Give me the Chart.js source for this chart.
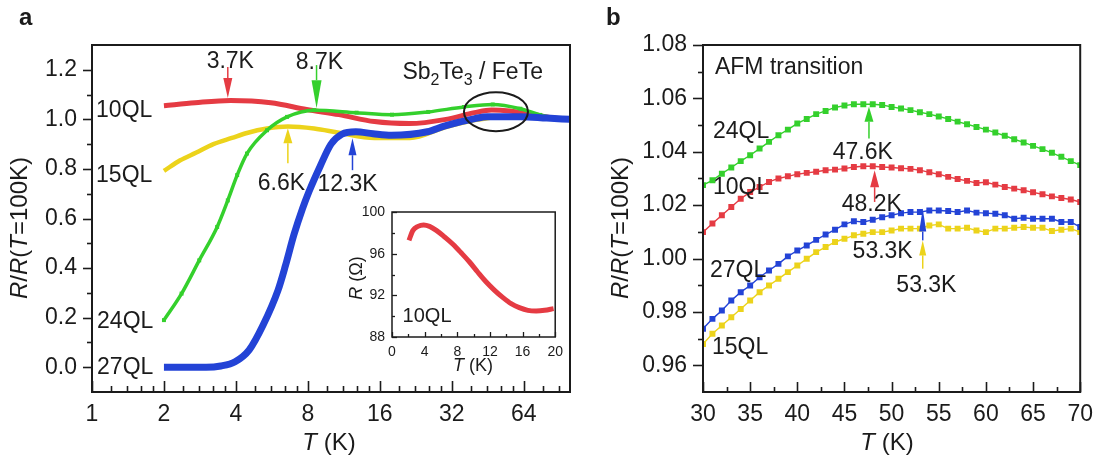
<!DOCTYPE html>
<html>
<head>
<meta charset="utf-8">
<script src="https://cdn.jsdelivr.net/npm/chart.js@4.4.1/dist/chart.umd.min.js"></script>
<style>
  body { margin: 0; background: #fff; }
  #wrap { position: relative; width: 1102px; height: 460px; overflow: hidden; font-family: "Liberation Sans", Arial, sans-serif; color: #1b1b1b; }
  .panel { position: absolute; }
  .tag { position: absolute; font-weight: bold; font-size: 24px; line-height: 1; }
</style>
</head>
<body>
<div id="wrap">
  <div class="panel" style="left:0;top:0;width:590px;height:460px"><canvas id="chartA"></canvas></div>
  <div class="panel" style="left:340px;top:190px;width:230px;height:200px"><canvas id="chartInset"></canvas></div>
  <div class="panel" style="left:590px;top:0;width:512px;height:460px"><canvas id="chartB"></canvas></div>
  <div class="tag" style="left:19px;top:5px">a</div>
  <div class="tag" style="left:606px;top:5px">b</div>
</div>
<script>
// ---- panel a : R/R(T=100K) against T (log2 axis) ----
var tRed10 = [2, 2.7, 3.8, 5.6, 7.9, 10.8, 15.2, 21.3, 30.3, 39.8, 47, 56, 70, 85, 100];
var rRed10 = [1.055, 1.067, 1.076, 1.067, 1.040, 1.019, 0.991, 0.983, 1.000, 1.027, 1.038, 1.034, 1.020, 1.006, 1.0];

var tYel15 = [2, 2.34, 2.72, 3.22, 3.85, 4.45, 5.4, 6.6, 8.5, 10.8, 15.2, 21.4, 30, 40, 53, 70, 85, 100];
var rYel15 = [0.792, 0.835, 0.865, 0.900, 0.925, 0.945, 0.963, 0.971, 0.963, 0.946, 0.925, 0.925, 0.968, 0.997, 1.011, 1.008, 1.004, 1.0];

var tGrn24 = [2, 2.37, 2.81, 3.34, 3.7, 4.05, 4.45, 5.4, 6.55, 8.5, 12.8, 18, 25.5, 36, 47.5, 62, 75, 88, 100];
var rGrn24 = [0.19, 0.297, 0.431, 0.566, 0.673, 0.775, 0.862, 0.956, 1.010, 1.037, 1.027, 1.019, 1.030, 1.050, 1.060, 1.043, 1.018, 1.004, 1.0];

var tBlu27 = [2, 2.5, 3, 3.46, 3.97, 4.55, 5.2, 6.0, 6.45, 7.0, 7.6, 8.1, 9.0, 10.0, 11.1, 12.7, 15, 17.9, 25.3, 30, 40, 45, 62, 80, 100];
var rBlu27 = [0.0, 0.0, 0.0, 0.005, 0.022, 0.07, 0.17, 0.31, 0.41, 0.535, 0.64, 0.71, 0.81, 0.90, 0.94, 0.95, 0.942, 0.936, 0.95, 0.974, 1.003, 1.011, 1.011, 1.005, 1.0];

var xTicksA = [1, 2, 4, 8, 16, 32, 64];
var yTicksA = [0, 0.2, 0.4, 0.6, 0.8, 1.0, 1.2];

// ---- inset : R (ohm) of 10QL ----
var tInset = [2.08, 2.57, 3.18, 3.88, 4.6, 5.43, 6.45, 7.47, 8.5, 9.5, 10.5, 11.55, 12.57, 13.6, 14.6, 15.6, 16.65, 17.67, 18.7, 19.8];
var rInset = [97.28, 98.24, 98.62, 98.75, 98.62, 98.24, 97.6, 96.9, 96.06, 95.2, 94.24, 93.28, 92.48, 91.78, 91.2, 90.82, 90.56, 90.5, 90.56, 90.72];
var xTicksIn = [0, 4, 8, 12, 16, 20];
var yTicksIn = [88, 92, 96, 100];

// ---- panel b : AFM transition, 1 K steps ----
var tempB = [30, 31, 32, 33, 34, 35, 36, 37, 38, 39, 40, 41, 42, 43, 44, 45, 46, 47, 48, 49, 50,
             51, 52, 53, 54, 55, 56, 57, 58, 59, 60, 61, 62, 63, 64, 65, 66, 67, 68, 69, 70];
var bGreen24 = [1.0275, 1.0293, 1.0318, 1.0341, 1.0365, 1.0387, 1.0412, 1.0437, 1.0462, 1.0483, 1.0506,
                1.0523, 1.0541, 1.0553, 1.0566, 1.0573, 1.0578, 1.0578, 1.0578, 1.0575, 1.0568,
                1.0562, 1.0556, 1.0548, 1.0541, 1.0532, 1.0523, 1.0513, 1.0503, 1.0493, 1.0483,
                1.0472, 1.0460, 1.0447, 1.0435, 1.0422, 1.0410, 1.0396, 1.0381, 1.0365, 1.0350];
var bRed10 = [1.0099, 1.0131, 1.0162, 1.0193, 1.0224, 1.0249, 1.0268, 1.0287, 1.0300, 1.0308, 1.0316,
              1.0321, 1.0325, 1.0331, 1.0333, 1.0337, 1.0343, 1.0346, 1.0346, 1.0343, 1.0341,
              1.0338, 1.0336, 1.0331, 1.0323, 1.0316, 1.0306, 1.0298, 1.0291, 1.0283, 1.0286,
              1.0277, 1.0268, 1.0262, 1.0256, 1.0248, 1.0241, 1.0233, 1.0227, 1.0221, 1.0212];
var bBlue27 = [0.9737, 0.9774, 0.9805, 0.9843, 0.9874, 0.9899, 0.9930, 0.9955, 0.9980, 1.0008, 1.0030,
               1.0049, 1.0070, 1.0090, 1.0108, 1.0128, 1.0140, 1.0137, 1.0145, 1.0155, 1.0162,
               1.0170, 1.0174, 1.0174, 1.0180, 1.0180, 1.0178, 1.0174, 1.0180, 1.0172, 1.0170,
               1.0168, 1.0162, 1.0149, 1.0153, 1.0149, 1.0149, 1.0149, 1.0137, 1.0137, 1.0118];
var bYellow15 = [0.9680, 0.9718, 0.9749, 0.9780, 0.9811, 0.9843, 0.9874, 0.9899, 0.9924, 0.9949, 0.9974,
                 0.9999, 1.0024, 1.0043, 1.0062, 1.0074, 1.0087, 1.0093, 1.0099, 1.0099, 1.0105,
                 1.0112, 1.0112, 1.0112, 1.0124, 1.0128, 1.0112, 1.0112, 1.0115, 1.0105, 1.0099,
                 1.0112, 1.0112, 1.0115, 1.0118, 1.0115, 1.0115, 1.0103, 1.0108, 1.0112, 1.0099];
var xTicksB = [30, 35, 40, 45, 50, 55, 60, 65, 70];
var yTicksB = [0.96, 0.98, 1.00, 1.02, 1.04, 1.06, 1.08];

var RED = '#e53b43', GREEN = '#34d02c', YELLOW = '#ecd31b', BLUE = '#2343d6', INK = '#1b1b1b';
var FONT = '"Liberation Sans", Arial, sans-serif';

function pts(xs, ys) {
  return xs.map(function (x, i) { return { x: x, y: ys[i] }; });
}

// draws a row of text pieces (italic / subscript) centred or left aligned
function drawRich(ctx, segs, x, y, size, rot, align) {
  ctx.save();
  ctx.translate(x, y);
  ctx.rotate(rot || 0);
  var font = function (s) {
    return (s.i ? 'italic ' : '') + Math.round(s.sub ? size * 0.68 : size) + 'px ' + FONT;
  };
  var w = segs.map(function (s) { ctx.font = font(s); return ctx.measureText(s.t).width; });
  var total = w.reduce(function (a, b) { return a + b; }, 0);
  var cx = align === 'left' ? 0 : -total / 2;
  ctx.textAlign = 'left';
  ctx.textBaseline = 'middle';
  ctx.fillStyle = INK;
  segs.forEach(function (s, i) {
    ctx.font = font(s);
    ctx.fillText(s.t, cx, s.sub ? size * 0.38 : 0);
    cx += w[i];
  });
  ctx.restore();
}

function txt(s) { return [{ t: s }]; }

// frame, tick marks (x inwards, y inwards or outwards) and axis titles
var framePlugin = {
  id: 'frame',
  afterDraw: function (chart, args, o) {
    var ctx = chart.ctx, a = chart.chartArea, xs = chart.scales.x, ys = chart.scales.y;
    ctx.save();
    ctx.strokeStyle = INK;
    ctx.lineWidth = o.tickWidth;
    function xt(v, len) {
      var p = Math.round(xs.getPixelForValue(v)) + 0.5;
      ctx.beginPath(); ctx.moveTo(p, a.bottom); ctx.lineTo(p, a.bottom - len); ctx.stroke();
    }
    function yt(v, len) {
      var p = Math.round(ys.getPixelForValue(v)) + 0.5;
      ctx.beginPath(); ctx.moveTo(a.left, p); ctx.lineTo(a.left + o.yDir * len, p); ctx.stroke();
    }
    o.xMajor.forEach(function (v) { xt(v, o.xLen); });
    o.xMinor.forEach(function (v) { xt(v, o.xMinLen); });
    o.yMajor.forEach(function (v) { yt(v, o.yLen); });
    o.yMinor.forEach(function (v) { yt(v, o.yMinLen); });
    ctx.lineWidth = o.width;
    ctx.strokeRect(a.left, a.top, a.right - a.left, a.bottom - a.top);
    (o.titles || []).forEach(function (t) {
      drawRich(ctx, t.segs, t.x, t.y, t.size, t.rot, 'center');
    });
    ctx.restore();
  }
};

// labels, arrows and ellipse placed in data coordinates
var notesPlugin = {
  id: 'notes',
  afterDatasetsDraw: function (chart, args, o) {
    var ctx = chart.ctx, xs = chart.scales.x, ys = chart.scales.y;
    ctx.save();
    (o.ellipses || []).forEach(function (e) {
      ctx.beginPath();
      ctx.ellipse(xs.getPixelForValue(e.x), ys.getPixelForValue(e.y), e.rx, e.ry, 0, 0, Math.PI * 2);
      ctx.lineWidth = 2; ctx.strokeStyle = INK; ctx.stroke();
    });
    (o.arrows || []).forEach(function (ar) {
      var px = xs.getPixelForValue(ar.x), p0 = ys.getPixelForValue(ar.from), p1 = ys.getPixelForValue(ar.to);
      var dir = p1 > p0 ? 1 : -1, base = p1 - dir * ar.head;
      ctx.strokeStyle = ar.color; ctx.fillStyle = ar.color; ctx.lineWidth = 1.5;
      ctx.beginPath(); ctx.moveTo(px, p0); ctx.lineTo(px, base); ctx.stroke();
      ctx.beginPath();
      ctx.moveTo(px - ar.w / 2, base); ctx.lineTo(px + ar.w / 2, base); ctx.lineTo(px, p1);
      ctx.closePath(); ctx.fill();
    });
    (o.texts || []).forEach(function (t) {
      drawRich(ctx, t.segs, xs.getPixelForValue(t.x), ys.getPixelForValue(t.y), o.size, 0, t.align);
    });
    ctx.restore();
  }
};

function fixTicks(list) {
  return function (s) { s.ticks = list.map(function (v) { return { value: v }; }); };
}
function minorLog(majors, max) {
  var out = [];
  majors.forEach(function (m) {
    [1.2, 1.4, 1.6, 1.8].forEach(function (f) { if (m * f < max) out.push(m * f); });
  });
  return out;
}

Chart.defaults.font.family = FONT;
Chart.defaults.color = INK;

// ---------- panel a ----------
new Chart(document.getElementById('chartA'), {
  type: 'line',
  data: {
    datasets: [
      { label: '27QL', data: pts(tBlu27, rBlu27), borderColor: BLUE, borderWidth: 7, pointRadius: 0, cubicInterpolationMode: 'monotone' },
      { label: '24QL', data: pts(tGrn24, rGrn24), borderColor: GREEN, backgroundColor: GREEN, borderWidth: 3.5,
        pointStyle: 'rect', pointRadius: 2.8, pointBorderWidth: 0, cubicInterpolationMode: 'monotone' },
      { label: '10QL', data: pts(tRed10, rRed10), borderColor: RED, borderWidth: 5, pointRadius: 0, cubicInterpolationMode: 'monotone' },
      { label: '15QL', data: pts(tYel15, rYel15), borderColor: YELLOW, borderWidth: 4.5, pointRadius: 0, cubicInterpolationMode: 'monotone' }
    ]
  },
  options: {
    responsive: true, maintainAspectRatio: false, animation: false,
    layout: { padding: { top: 45, right: 20, left: 0, bottom: 0 } },
    scales: {
      x: {
        type: 'logarithmic', min: 1, max: 100,
        afterBuildTicks: fixTicks(xTicksA),
        afterFit: function (s) { s.height = 68; },
        grid: { display: false, drawTicks: false }, border: { display: false },
        ticks: { autoSkip: false, maxRotation: 0, padding: 9, font: { size: 23 }, callback: function (v) { return String(v); } }
      },
      y: {
        type: 'linear', min: -0.1, max: 1.3,
        afterBuildTicks: fixTicks(yTicksA),
        afterFit: function (s) { s.width = 92; },
        grid: { display: false, drawTicks: false }, border: { display: false },
        ticks: { padding: 15, font: { size: 23 }, callback: function (v) { return v.toFixed(1); } }
      }
    },
    plugins: {
      legend: { display: false }, tooltip: { enabled: false },
      frame: {
        width: 2, tickWidth: 1.6, yDir: -1,
        xMajor: xTicksA, xMinor: minorLog(xTicksA, 100), xLen: 11, xMinLen: 6,
        yMajor: yTicksA, yMinor: [0.1, 0.3, 0.5, 0.7, 0.9, 1.1], yLen: 9, yMinLen: 5,
        titles: [
          { segs: [{ t: 'R', i: true }, { t: '/' }, { t: 'R', i: true }, { t: '(' }, { t: 'T', i: true }, { t: '=100K)' }],
            x: 20, y: 228, size: 24, rot: -Math.PI / 2 },
          { segs: [{ t: 'T', i: true }, { t: ' (K)' }], x: 329, y: 443, size: 24 }
        ]
      },
      notes: {
        size: 23,
        texts: [
          { segs: txt('10QL'), x: 1.04, y: 1.037, align: 'left' },
          { segs: txt('15QL'), x: 1.04, y: 0.774, align: 'left' },
          { segs: txt('24QL'), x: 1.05, y: 0.184, align: 'left' },
          { segs: txt('27QL'), x: 1.05, y: -0.001, align: 'left' },
          { segs: txt('3.7K'), x: 3.79, y: 1.231 },
          { segs: txt('8.7K'), x: 8.95, y: 1.227 },
          { segs: txt('6.6K'), x: 6.2, y: 0.742 },
          { segs: txt('12.3K'), x: 11.73, y: 0.738 },
          { segs: [{ t: 'Sb' }, { t: '2', sub: true }, { t: 'Te' }, { t: '3', sub: true }, { t: ' / FeTe' }], x: 19.9, y: 1.19, align: 'left' }
        ],
        arrows: [
          { x: 3.7, from: 1.211, to: 1.086, color: RED, head: 20, w: 9 },
          { x: 8.7, from: 1.219, to: 1.045, color: GREEN, head: 28, w: 10 },
          { x: 6.6, from: 0.823, to: 0.964, color: YELLOW, head: 15, w: 9 },
          { x: 12.3, from: 0.795, to: 0.924, color: BLUE, head: 17, w: 8 }
        ],
        ellipses: [{ x: 49, y: 1.031, rx: 32, ry: 19.5 }]
      }
    }
  },
  plugins: [notesPlugin, framePlugin]
});

// ---------- inset ----------
new Chart(document.getElementById('chartInset'), {
  type: 'line',
  data: {
    datasets: [
      { label: '10QL', data: pts(tInset, rInset), borderColor: RED, borderWidth: 5, pointRadius: 0, cubicInterpolationMode: 'monotone' }
    ]
  },
  options: {
    responsive: true, maintainAspectRatio: false, animation: false,
    layout: { padding: { top: 22, right: 14, left: 0, bottom: 0 } },
    scales: {
      x: {
        type: 'linear', min: 0, max: 20,
        afterBuildTicks: fixTicks(xTicksIn),
        afterFit: function (s) { s.height = 53; },
        grid: { display: false, drawTicks: false }, border: { display: false },
        ticks: { autoSkip: false, maxRotation: 0, padding: 7, font: { size: 14 } }
      },
      y: {
        type: 'linear', min: 88, max: 100,
        afterBuildTicks: fixTicks(yTicksIn),
        afterFit: function (s) { s.width = 52; },
        grid: { display: false, drawTicks: false }, border: { display: false },
        ticks: { padding: 7, font: { size: 14 } }
      }
    },
    plugins: {
      legend: { display: false }, tooltip: { enabled: false },
      frame: {
        width: 1.5, tickWidth: 1.3, yDir: 1,
        xMajor: xTicksIn, xMinor: [2, 6, 10, 14, 18], xLen: 5, xMinLen: 3,
        yMajor: yTicksIn, yMinor: [90, 94, 98], yLen: 5, yMinLen: 3,
        titles: [
          { segs: [{ t: 'R', i: true }, { t: ' (Ω)' }], x: 17, y: 88, size: 18, rot: -Math.PI / 2 },
          { segs: [{ t: 'T', i: true }, { t: ' (K)' }], x: 133, y: 176, size: 18 }
        ]
      },
      notes: {
        size: 20,
        texts: [{ segs: txt('10QL'), x: 1.3, y: 90, align: 'left' }]
      }
    }
  },
  plugins: [notesPlugin, framePlugin]
});

// ---------- panel b ----------
function seriesB(label, values, color) {
  return {
    label: label, data: pts(tempB, values), borderColor: color, backgroundColor: color,
    borderWidth: 1.4, pointStyle: 'rect', pointRadius: 4.2, pointBorderWidth: 0, tension: 0
  };
}
new Chart(document.getElementById('chartB'), {
  type: 'line',
  data: {
    datasets: [
      seriesB('27QL', bBlue27, BLUE),
      seriesB('15QL', bYellow15, YELLOW),
      seriesB('10QL', bRed10, RED),
      seriesB('24QL', bGreen24, GREEN)
    ]
  },
  options: {
    responsive: true, maintainAspectRatio: false, animation: false,
    layout: { padding: { top: 45, right: 19, left: 0, bottom: 0 } },
    scales: {
      x: {
        type: 'linear', min: 30, max: 70,
        afterBuildTicks: fixTicks(xTicksB),
        afterFit: function (s) { s.height = 68; },
        grid: { display: false, drawTicks: false }, border: { display: false },
        ticks: { autoSkip: false, maxRotation: 0, padding: 9, font: { size: 23 } }
      },
      y: {
        type: 'linear', min: 0.95, max: 1.08,
        afterBuildTicks: fixTicks(yTicksB),
        afterFit: function (s) { s.width = 113; },
        grid: { display: false, drawTicks: false }, border: { display: false },
        ticks: { padding: 16, font: { size: 23 }, callback: function (v) { return v.toFixed(2); } }
      }
    },
    plugins: {
      legend: { display: false }, tooltip: { enabled: false },
      frame: {
        width: 2, tickWidth: 1.6, yDir: -1,
        xMajor: xTicksB, xMinor: [32.5, 37.5, 42.5, 47.5, 52.5, 57.5, 62.5, 67.5], xLen: 10, xMinLen: 5,
        yMajor: yTicksB, yMinor: [0.97, 0.99, 1.01, 1.03, 1.05, 1.07], yLen: 10, yMinLen: 5,
        titles: [
          { segs: [{ t: 'R', i: true }, { t: '/' }, { t: 'R', i: true }, { t: '(' }, { t: 'T', i: true }, { t: '=100K)' }],
            x: 31, y: 228, size: 24, rot: -Math.PI / 2 },
          { segs: [{ t: 'T', i: true }, { t: ' (K)' }], x: 297, y: 443, size: 24 }
        ]
      },
      notes: {
        size: 23,
        texts: [
          { segs: txt('AFM transition'), x: 31.27, y: 1.0714, align: 'left' },
          { segs: txt('24QL'), x: 31.06, y: 1.0474, align: 'left' },
          { segs: txt('10QL'), x: 31.06, y: 1.0267, align: 'left' },
          { segs: txt('27QL'), x: 30.74, y: 0.9956, align: 'left' },
          { segs: txt('15QL'), x: 30.95, y: 0.9667, align: 'left' },
          { segs: txt('47.6K'), x: 46.94, y: 1.0398 },
          { segs: txt('48.2K'), x: 47.89, y: 1.0200 },
          { segs: txt('53.3K'), x: 49.05, y: 1.0027 },
          { segs: txt('53.3K'), x: 53.69, y: 0.9900 }
        ],
        arrows: [
          { x: 47.6, from: 1.045, to: 1.0569, color: GREEN, head: 15, w: 9 },
          { x: 48.2, from: 1.0212, to: 1.0331, color: RED, head: 17, w: 9 },
          { x: 53.3, from: 1.0068, to: 1.0187, color: BLUE, head: 23, w: 7 },
          { x: 53.3, from: 0.9962, to: 1.0068, color: YELLOW, head: 15, w: 7 }
        ]
      }
    }
  },
  plugins: [notesPlugin, framePlugin]
});
</script>
</body>
</html>
